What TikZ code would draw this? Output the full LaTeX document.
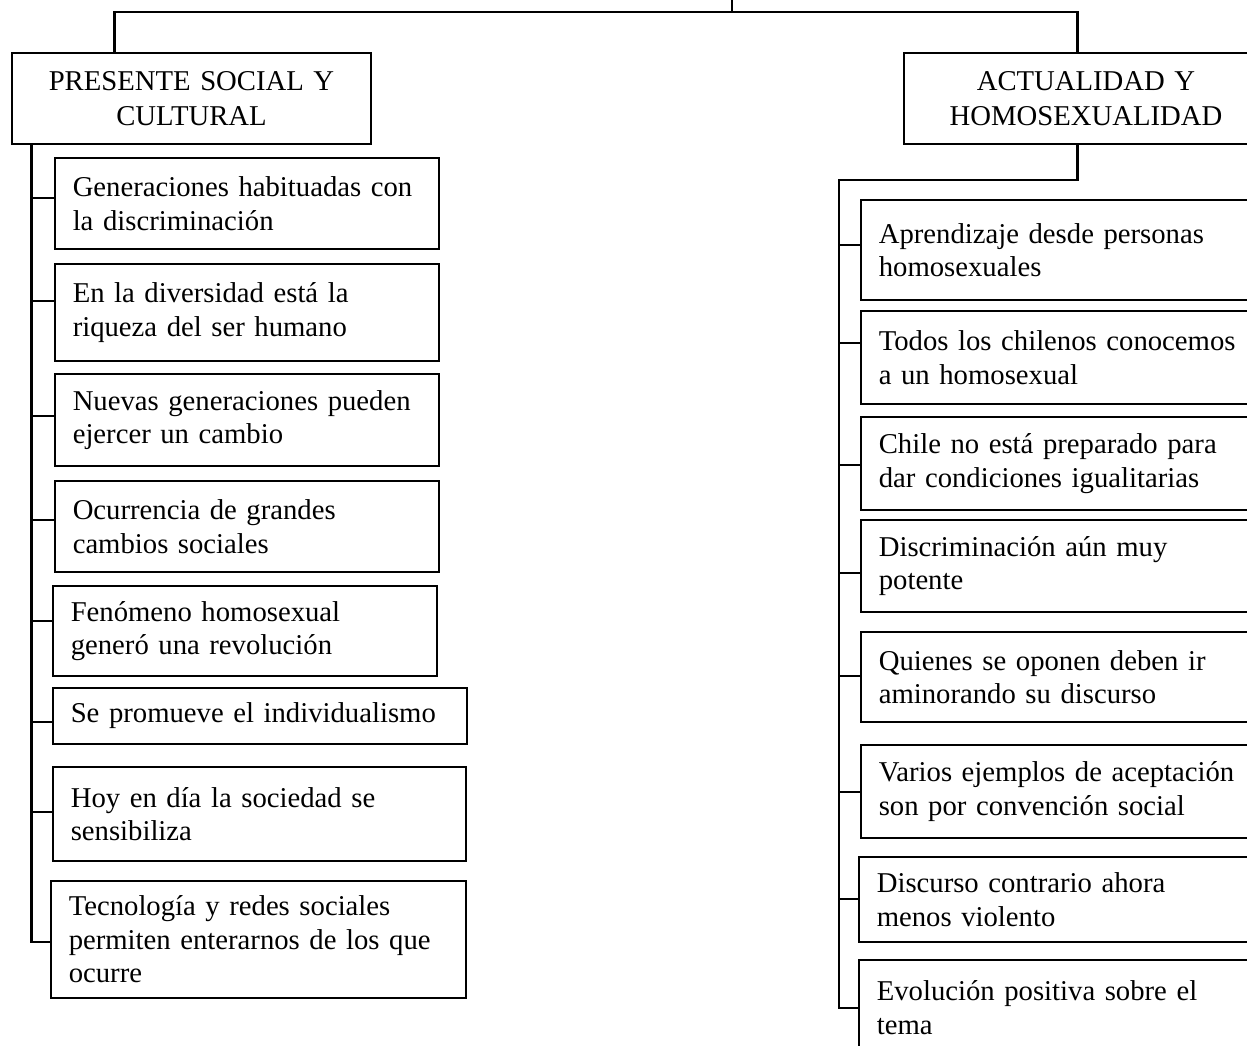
\documentclass[tikz,border=0pt]{standalone}
\usepackage{fontspec}
\setmainfont{Liberation Serif}
\usetikzlibrary{calc}
\begin{document}
\begin{tikzpicture}[x=0.3937pt, y=-0.3937pt,
    box/.style={draw, line width=0.6pt, inner xsep=7pt, inner ysep=3pt,
      align=left, font=\fontsize{11.3pt}{13.2pt}\selectfont},
    head/.style={box, align=center, font=\fontsize{11.3pt}{13.8pt}\selectfont},
    link/.style={line width=1pt}]
      \useasboundingbox (0,0) rectangle (1247,1046);
      \node[head, text width=127.3pt, minimum height=35.8pt] (pres) at (191.5,98.5) {PRESENTE SOCIAL Y\\CULTURAL};
      \node[head, text width=129.3pt, minimum height=35.8pt] (act) at (1086,98.5) {ACTUALIDAD Y\\HOMOSEXUALIDAD};
      \node[box, text width=137.2pt, minimum height=35.8pt] (l1) at (247,203.5) {Generaciones habituadas con\\la discriminación};
      \node[box, text width=137.2pt, minimum height=38.2pt] (l2) at (247,312.5) {En la diversidad está la\\riqueza del ser humano};
      \node[box, text width=137.2pt, minimum height=36.2pt] (l3) at (247,420) {Nuevas generaciones pueden\\ejercer un cambio};
      \node[box, text width=137.2pt, minimum height=35.8pt] (l4) at (247,526.5) {Ocurrencia de grandes\\cambios sociales};
      \node[box, text width=137.2pt, minimum height=35.4pt] (l5) at (245,631) {Fenómeno homosexual\\generó una revolución};
      \node[box, text width=149pt, minimum height=22pt] (l6) at (260,716) {Se promueve el individualismo};
      \node[box, text width=148.6pt, minimum height=37pt] (l7) at (259.5,814) {Hoy en día la sociedad se\\sensibiliza};
      \node[box, text width=149.4pt, minimum height=46.1pt] (l8) at (258.5,939.5) {Tecnología y redes sociales\\permiten enterarnos de los que\\ocurre};
      \node[box, text width=147pt, minimum height=39.4pt] (r1) at (1065.5,250) {Aprendizaje desde personas\\homosexuales};
      \node[box, text width=147pt, minimum height=36.6pt] (r2) at (1065.5,357.5) {Todos los chilenos conocemos\\a un homosexual};
      \node[box, text width=147pt, minimum height=36.6pt] (r3) at (1065.5,463.5) {Chile no está preparado para\\dar condiciones igualitarias};
      \node[box, text width=147pt, minimum height=36.2pt] (r4) at (1065.5,566) {Discriminación aún muy\\potente};
      \node[box, text width=147pt, minimum height=35.4pt] (r5) at (1065.5,677) {Quienes se oponen deben ir\\aminorando su discurso};
      \node[box, text width=147pt, minimum height=36.6pt] (r6) at (1065.5,791.5) {Varios ejemplos de aceptación\\son por convención social};
      \node[box, text width=147.8pt, minimum height=33.5pt] (r7) at (1064.5,899.5) {Discurso contrario ahora\\menos violento};
      \node[box, text width=147.8pt, minimum height=37.4pt] (r8) at (1064.5,1007.5) {Evolución positiva sobre el\\tema};
      \coordinate (root) at (732,-10);
      \coordinate (hub) at (732,12);
      \coordinate (ltrunk) at ($(pres.south west)+(20,0)$);
      \coordinate (rknee) at ($(act.south west)+(174,0)$);
      \coordinate (rtrunk) at (839,180);
      \begin{scope}[link]
        \draw (root) -- (hub);
        \draw (hub) -| ($(pres.north west)+(103,0)$);
        \draw (hub) -| ($(act.north west)+(174,0)$);
        \draw (ltrunk) |- (l8.west |- 0,942);
        \draw (ltrunk |- 0,198) -- (l1.west |- 0,198);
        \draw (ltrunk |- 0,301) -- (l2.west |- 0,301);
        \draw (ltrunk |- 0,416) -- (l3.west |- 0,416);
        \draw (ltrunk |- 0,520) -- (l4.west |- 0,520);
        \draw (ltrunk |- 0,621) -- (l5.west |- 0,621);
        \draw (ltrunk |- 0,722) -- (l6.west |- 0,722);
        \draw (ltrunk |- 0,812) -- (l7.west |- 0,812);
        \draw (rknee) |- (rtrunk) |- (r8.west |- 0,1008);
        \draw (rtrunk |- 0,245) -- (r1.west |- 0,245);
        \draw (rtrunk |- 0,343) -- (r2.west |- 0,343);
        \draw (rtrunk |- 0,465) -- (r3.west |- 0,465);
        \draw (rtrunk |- 0,573) -- (r4.west |- 0,573);
        \draw (rtrunk |- 0,676) -- (r5.west |- 0,676);
        \draw (rtrunk |- 0,792) -- (r6.west |- 0,792);
        \draw (rtrunk |- 0,899) -- (r7.west |- 0,899);
      \end{scope}
    \end{tikzpicture}
\end{document}
